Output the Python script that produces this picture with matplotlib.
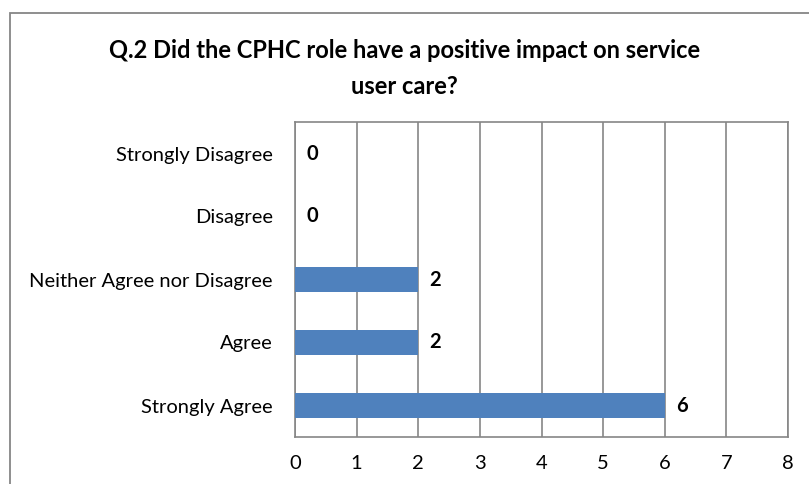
import matplotlib.pyplot as plt
from matplotlib.patches import Rectangle

categories = ["Strongly Agree", "Agree", "Neither Agree nor Disagree",
              "Disagree", "Strongly Disagree"]
counts = [6, 2, 2, 0, 0]
xticks = [0, 1, 2, 3, 4, 5, 6, 7, 8]

BLUE = "#4F81BD"
GRID = "#868686"
FONT = ["Lato", "DejaVu Sans"]

plt.rcParams["font.family"] = FONT

fig = plt.figure(figsize=(8.09, 4.84), dpi=100)
W, H = 809, 484

# outer chart border (cropped at right and bottom)
fig.patches.append(Rectangle((10 / W, -0.1), 1.2, 1 - 13 / H + 0.1,
                             transform=fig.transFigure, fill=False,
                             edgecolor=GRID, lw=1.3))

ax = fig.add_axes([295 / W, 1 - 437 / H, (788 - 295) / W, (437 - 122) / H])
y = range(len(categories))
ax.barh(y, counts, height=0.4, color=BLUE, zorder=3)
ax.set_xlim(0, 8)
ax.set_ylim(-0.5, 4.5)
ax.set_xticks(xticks)
ax.set_xticklabels([str(t) for t in xticks], fontsize=14.5)
ax.set_yticks(list(y))
ax.set_yticklabels(categories, fontsize=14.5)
ax.tick_params(length=0, pad=16, axis="y")
ax.tick_params(length=0, pad=13, axis="x")
ax.grid(axis="x", color=GRID, lw=1.2, zorder=0)
for s in ax.spines.values():
    s.set_color(GRID)
    s.set_linewidth(1.2)

for i, v in enumerate(counts):
    ax.annotate(str(v), (v, i), xytext=(8, 0), textcoords="offset points",
                ha="left", va="center", fontsize=14.5, fontweight="bold")

fig.text(0.5, 1 - 50 / H, "Q.2 Did the CPHC role have a positive impact on service",
         ha="center", va="center", fontsize=17, fontweight="bold")
fig.text(0.5, 1 - 87 / H, "user care?",
         ha="center", va="center", fontsize=17, fontweight="bold")

fig.savefig("out.png", dpi=100)
